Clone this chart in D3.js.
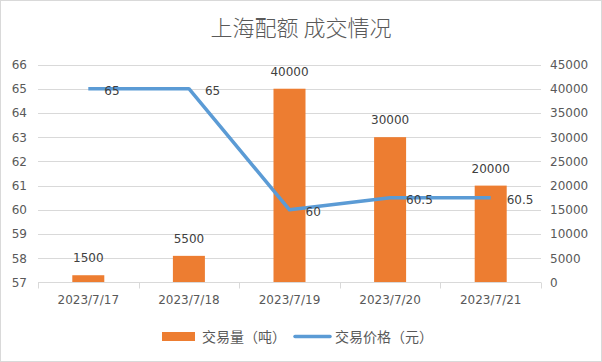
<!DOCTYPE html>
<html>
<head>
<meta charset="utf-8">
<script src="https://cdn.jsdelivr.net/npm/d3@7"></script>
<style>
body { margin: 0; background: #fff; }
svg { display: block; }
</style>
</head>
<body>
<div class="chart"></div>
<script>
var dates = ['2023/7/17', '2023/7/18', '2023/7/19', '2023/7/20', '2023/7/21'];
var volume = [1500, 5500, 40000, 30000, 20000];
var price = [65, 65, 60, 60.5, 60.5];
var priceTicks = [57, 58, 59, 60, 61, 62, 63, 64, 65, 66];
var volumeTicks = [0, 5000, 10000, 15000, 20000, 25000, 30000, 35000, 40000, 45000];

var width = 602;
var height = 362;
var plotLeft = 38, plotRight = 541, plotTop = 64.5, plotBottom = 282.5;
var numFont = '"DejaVu Sans", sans-serif';
var cjkFont = '"Noto Sans CJK SC", sans-serif';

var svg = d3.select('.chart').append('svg')
	.attr('width', width)
	.attr('height', height)
	.attr('viewBox', `0 0 ${width} ${height}`);

svg.append('rect')
	.attr('x', 0.5).attr('y', 0.5)
	.attr('width', width - 1).attr('height', height - 1)
	.attr('fill', '#fff').attr('stroke', '#d9d9d9');

svg.append('text')
	.attr('x', 301).attr('y', 36)
	.attr('text-anchor', 'middle')
	.attr('font-family', cjkFont)
	.attr('font-size', 22)
	.attr('font-weight', 300)
	.attr('fill', '#595959')
	.text('上海配额 成交情况');

var x = d3.scaleBand().domain(dates).range([plotLeft, plotRight]);
var yPrice = d3.scaleLinear().domain([57, 66]).range([plotBottom, plotTop]);
var yVol = d3.scaleLinear().domain([0, 45000]).range([plotBottom, plotTop]);

// gridlines
svg.append('g')
	.selectAll('line')
	.data(priceTicks.slice(1))
	.enter().append('line')
	.attr('x1', plotLeft).attr('x2', plotRight)
	.attr('y1', function(d) { return Math.round(yPrice(d)) + 0.5; })
	.attr('y2', function(d) { return Math.round(yPrice(d)) + 0.5; })
	.attr('stroke', '#d9d9d9');

// left axis
var leftAxis = svg.append('g')
	.attr('transform', `translate(${plotLeft},0)`)
	.call(d3.axisLeft(yPrice).tickValues(priceTicks).tickSize(0).tickPadding(11));
leftAxis.select('.domain').remove();
leftAxis.selectAll('text')
	.attr('font-family', numFont).attr('font-size', 12).attr('fill', '#595959');

// right axis
var rightAxis = svg.append('g')
	.attr('transform', `translate(${plotRight},0)`)
	.call(d3.axisRight(yVol).tickValues(volumeTicks).tickFormat(d3.format('d')).tickSize(0).tickPadding(9));
rightAxis.select('.domain').remove();
rightAxis.selectAll('text')
	.attr('font-family', numFont).attr('font-size', 12).attr('fill', '#595959');

// bars
var barW = 32;
svg.append('g')
	.selectAll('rect')
	.data(volume)
	.enter().append('rect')
	.attr('x', function(d, i) { return x(dates[i]) + x.bandwidth() / 2 - barW / 2; })
	.attr('y', function(d) { return yVol(d); })
	.attr('width', barW)
	.attr('height', function(d) { return plotBottom - yVol(d); })
	.attr('fill', '#ed7d31');

// x axis
var xAxis = svg.append('g')
	.attr('transform', `translate(0,${plotBottom})`);
xAxis.append('line')
	.attr('x1', plotLeft).attr('x2', plotRight)
	.attr('y1', 0).attr('y2', 0)
	.attr('stroke', '#d9d9d9');
var bounds = dates.map(function(d) { return x(d); }).concat([plotRight]);
xAxis.selectAll('.tk')
	.data(bounds)
	.enter().append('line')
	.attr('class', 'tk')
	.attr('x1', function(d) { return Math.round(d) + 0.5; })
	.attr('x2', function(d) { return Math.round(d) + 0.5; })
	.attr('y1', 0).attr('y2', 6)
	.attr('stroke', '#d9d9d9');
xAxis.selectAll('.lbl')
	.data(dates)
	.enter().append('text')
	.attr('class', 'lbl')
	.attr('x', function(d) { return x(d) + x.bandwidth() / 2; })
	.attr('y', 21)
	.attr('text-anchor', 'middle')
	.attr('font-family', numFont).attr('font-size', 12).attr('fill', '#595959')
	.text(function(d) { return d; });

// bar labels
svg.append('g')
	.selectAll('text')
	.data(volume)
	.enter().append('text')
	.attr('x', function(d, i) { return x(dates[i]) + x.bandwidth() / 2; })
	.attr('y', function(d) { return yVol(d) - 13; })
	.attr('text-anchor', 'middle')
	.attr('font-family', numFont).attr('font-size', 12).attr('fill', '#404040')
	.text(function(d) { return d; });

// price line
var line = d3.line()
	.x(function(d, i) { return x(dates[i]) + x.bandwidth() / 2; })
	.y(function(d) { return yPrice(d); });
svg.append('path')
	.datum(price)
	.attr('d', line)
	.attr('fill', 'none')
	.attr('stroke', '#5b9bd5')
	.attr('stroke-width', 3.5)
	.attr('stroke-linejoin', 'round');

svg.append('g')
	.selectAll('text')
	.data(price)
	.enter().append('text')
	.attr('x', function(d, i) { return x(dates[i]) + x.bandwidth() / 2 + 16; })
	.attr('y', function(d) { return yPrice(d) + 6; })
	.attr('font-family', numFont).attr('font-size', 12).attr('fill', '#404040')
	.text(function(d) { return d; });

// legend
var legend = svg.append('g');
legend.append('rect')
	.attr('x', 162).attr('y', 332)
	.attr('width', 33).attr('height', 9)
	.attr('fill', '#ed7d31');
legend.append('text')
	.attr('x', 202).attr('y', 341.5)
	.attr('font-family', cjkFont).attr('font-size', 14).attr('fill', '#595959')
	.text('交易量（吨）');
legend.append('line')
	.attr('x1', 295).attr('x2', 330)
	.attr('y1', 336.5).attr('y2', 336.5)
	.attr('stroke', '#5b9bd5').attr('stroke-width', 3.5)
	.attr('stroke-linecap', 'round');
legend.append('text')
	.attr('x', 335).attr('y', 341.5)
	.attr('font-family', cjkFont).attr('font-size', 14).attr('fill', '#595959')
	.text('交易价格（元）');
</script>
</body>
</html>
